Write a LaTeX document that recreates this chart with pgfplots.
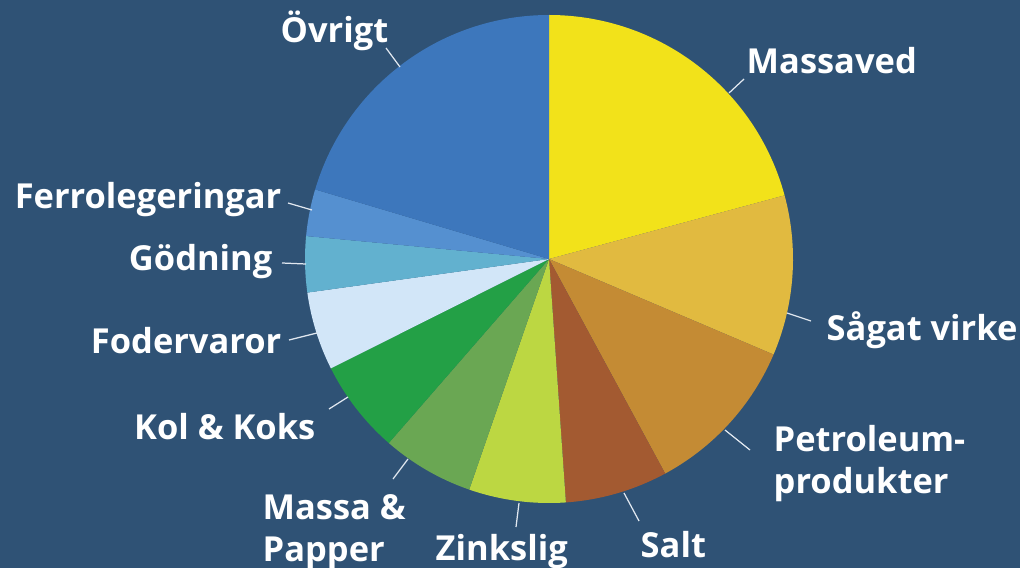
\documentclass[border=0pt]{standalone}
\usepackage{pgfplots}
\pgfplotsset{compat=1.18}
\usepackage{pgfplotstable}
\usepackage{fontspec}
\setmainfont{Open Sans}
\definecolor{bg}{RGB}{47,82,117}
\definecolor{col0}{RGB}{242,226,26}
\definecolor{col1}{RGB}{225,186,64}
\definecolor{col2}{RGB}{196,139,52}
\definecolor{col3}{RGB}{163,90,49}
\definecolor{col4}{RGB}{188,215,66}
\definecolor{col5}{RGB}{106,167,83}
\definecolor{col6}{RGB}{35,160,70}
\definecolor{col7}{RGB}{210,230,248}
\definecolor{col8}{RGB}{98,177,207}
\definecolor{col9}{RGB}{85,144,208}
\definecolor{col10}{RGB}{61,119,188}
\definecolor{lead}{RGB}{225,232,240}

% share of each category, percent (clockwise from 12 o'clock)
\pgfplotstableread[col sep=comma]{
name,value
Massaved,20.8
Sågat virke,10.6
Petroleumprodukter,10.7
Salt,6.8
Zinkslig,6.4
Massa & Papper,6.1
Kol & Koks,6.2
Fodervaror,5.2
Gödning,3.7
Ferrolegeringar,3.1
Övrigt,20.4
}\piedata

\begin{document}
\begin{tikzpicture}
\pgfmathsetmacro{\cum}{90}
\pgfplotsforeachungrouped \i in {0,...,10}{%
  \pgfplotstablegetelem{\i}{value}\of\piedata
  \pgfmathsetmacro{\endang}{\cum-\pgfplotsretval*3.6}%
  \expandafter\xdef\csname sa\i\endcsname{\cum}%
  \expandafter\xdef\csname ea\i\endcsname{\endang}%
  \global\let\cum\endang
}
\useasboundingbox (0,0) rectangle (10.2cm,5.68cm);
\begin{axis}[
  at={(0,0)}, anchor=south west,
  scale only axis, width=10.2cm, height=5.68cm,
  xmin=0, xmax=1020, ymin=0, ymax=568,
  hide axis, clip=false,
]
\fill[bg] (axis cs:0,0) rectangle (axis cs:1020,568);
\pgfplotsinvokeforeach{0,...,10}{
  \fill[col#1] (axis cs:549,309) -- ++(\csname sa#1\endcsname:2.44cm)
     arc[start angle=\csname sa#1\endcsname, end angle=\csname ea#1\endcsname, radius=2.44cm] -- cycle;
}
\begin{scope}[every node/.style={text=white, font=\fontsize{9.8pt}{12pt}\selectfont\bfseries, inner sep=0pt}]
\draw[lead, line width=0.35pt] (axis cs:729,475) -- (axis cs:744,489);
\node[anchor=base west] at (axis cs:746,494) {Massaved};
\draw[lead, line width=0.35pt] (axis cs:787,255) -- (axis cs:811,247);
\node[anchor=base west] at (axis cs:826,228) {Sågat virke};
\draw[lead, line width=0.35pt] (axis cs:725,138) -- (axis cs:750,118);
\node[anchor=base west] at (axis cs:773,117) {Petroleum-};
\node[anchor=base west] at (axis cs:773,75) {produkter};
\draw[lead, line width=0.35pt] (axis cs:624,75) -- (axis cs:639,47);
\node[anchor=base west] at (axis cs:640,11) {Salt};
\draw[lead, line width=0.35pt] (axis cs:519,65) -- (axis cs:516,41);
\node[anchor=base west] at (axis cs:435,8) {Zinkslig};
\draw[lead, line width=0.35pt] (axis cs:408,109) -- (axis cs:393,89);
\node[anchor=base west] at (axis cs:262,49) {Massa \&};
\node[anchor=base west] at (axis cs:262,7) {Papper};
\draw[lead, line width=0.35pt] (axis cs:348,171) -- (axis cs:329,159);
\node[anchor=base east] at (axis cs:316,129) {Kol \& Koks};
\draw[lead, line width=0.35pt] (axis cs:317,235) -- (axis cs:289,228);
\node[anchor=base east] at (axis cs:282,215) {Fodervaror};
\draw[lead, line width=0.35pt] (axis cs:306,304) -- (axis cs:282,305);
\node[anchor=base east] at (axis cs:273,298) {Gödning};
\draw[lead, line width=0.35pt] (axis cs:312,358) -- (axis cs:288,365);
\node[anchor=base east] at (axis cs:282,359) {Ferrolegeringar};
\draw[lead, line width=0.35pt] (axis cs:400,501) -- (axis cs:386,520);
\node[anchor=base west] at (axis cs:280,525) {Övrigt};
\end{scope}
\end{axis}
\end{tikzpicture}
\end{document}
